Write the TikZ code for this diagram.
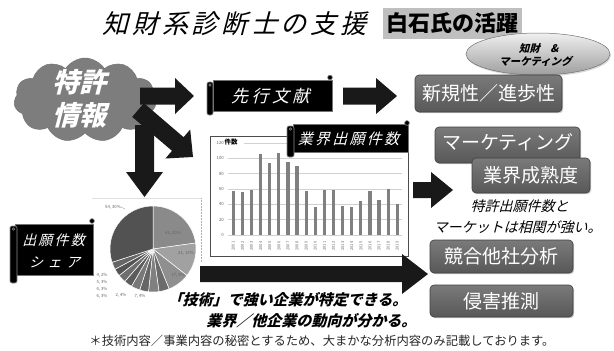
\documentclass[tikz,border=0pt]{standalone}
\usepackage{fontspec}
\setmainfont{Noto Sans CJK JP}
\newfontfamily\jp{Noto Sans CJK JP}
\usetikzlibrary{shapes.symbols,shapes.geometric,shadows}
\newcommand\myfs[1]{\fontsize{#1}{#1}\selectfont}
\newcommand\slnode[3][]{\begin{scope}[shift={#2}]\node[xslant=0.26, transform shape, inner sep=0pt, #1] at (0,0) {#3};\end{scope}}
\definecolor{boxtop}{RGB}{122,122,122}
\definecolor{boxbot}{RGB}{88,88,88}
\definecolor{cloudgray}{RGB}{125,125,125}
\definecolor{bargray}{RGB}{128,128,128}
\tikzset{
  gbox/.style={rounded corners=4pt, draw=black!75, line width=0.6pt,
    top color=boxtop, bottom color=boxbot, text=white, inner sep=0pt,
    drop shadow={shadow xshift=1.2pt, shadow yshift=-1.2pt, fill=black!40, opacity=0.5},
    font=\jp\myfs{19}},
  scrollbody/.style={fill=black, draw=black!55, line width=0.4pt, inner sep=0pt},
  roll/.style={fill=black, draw=black!45, line width=0.6pt, rounded corners=2pt},
  curl/.style={fill=black, draw=black!45, line width=0.6pt},
  blockarrow/.style={fill=black!90},
  tiny/.style={font=\jp\myfs{4.3}, text=black!60, inner sep=0pt},
}
\begin{document}
\begin{tikzpicture}[x=1pt,y=-1pt]
\useasboundingbox (0,0) rectangle (614,351);
\fill[white] (0,0) rectangle (614,351);

% title
\slnode[name=title, font=\jp\myfs{26}]{(237,24)}{\addfontfeatures{LetterSpace=14}知財系診断士の支援}
\node[fill=black!25, minimum width=139pt, minimum height=31pt, inner sep=0pt, font=\jp\bfseries\myfs{22}] (hl) at (452.5,23.5) {白石氏の活躍};

% ellipse
\node[ellipse, minimum width=144pt, minimum height=42pt, draw=black!55, line width=0.5pt,
  top color=black!6, bottom color=black!38, inner sep=0pt,
  drop shadow={shadow xshift=1pt, shadow yshift=-1.5pt, fill=black!30, opacity=0.5}] (ell) at (538,54) {};
\slnode[name=ellt, align=center, font=\jp\bfseries\myfs{10.5}]{(538,55)}{知財\quad\&\\[2pt]マーケティング}

% cloud
\node[cloud, cloud puffs=11, cloud puff arc=115, aspect=1.8, minimum width=142pt, minimum height=84pt,
  fill=cloudgray, draw=black!55, line width=0.5pt] (cloud) at (85,100) {};
\slnode[name=t1, font=\jp\bfseries\myfs{27}, text=white]{(82,82)}{特許}
\slnode[name=t2, font=\jp\bfseries\myfs{27}, text=white]{(82,115)}{情報}

% arrows from the cloud
\fill[blockarrow] (140,87.5) -- (175,87.5) -- (175,78) -- (194,96) -- (175,114) -- (175,104.5) -- (140,104.5) -- cycle;
\fill[blockarrow] (135,125) -- (154,125) -- (154,172) -- (163,172) -- (144.5,197) -- (126,172) -- (135,172) -- cycle;
\fill[blockarrow] (143.9,103.2) -- (183.6,137.2) -- (190.2,129.5) -- (193,157) -- (165.4,158.5) -- (172.0,150.8) -- (132.2,116.9) -- cycle;

% scroll 1
\node[scrollbody, minimum width=119pt, minimum height=31pt] (s1) at (272.5,95.5) {};
\slnode[name=s1t, font=\jp\myfs{17}, text=white]{(272,96)}{\addfontfeatures{LetterSpace=20}先行文献}
\fill[roll] (207,82) rectangle (213,115);
\filldraw[curl] (330,77.5) circle (2.4pt);
\draw[black!45, line width=0.5pt] (210,85) circle (1.3pt);

% arrow 2
\fill[blockarrow] (343,87.5) -- (376,87.5) -- (376,78) -- (397,96) -- (376,114) -- (376,104.5) -- (343,104.5) -- cycle;

% right boxes
\node[gbox, minimum width=147pt, minimum height=37pt] (nov) at (488.5,93.5) {新規性／進歩性};
\node[gbox, minimum width=145pt, minimum height=36pt] (mk) at (507.5,145) {};
\node[font=\jp\myfs{19}, text=white, inner sep=0pt] (mkt) at (508,142) {マーケティング};
\node[gbox, minimum width=118pt, minimum height=35pt] (mat) at (531,175.5) {業界成熟度};
\slnode[name=c1, font=\jp\myfs{14}]{(521,206)}{特許出願件数と}
\slnode[name=c2, font=\jp\myfs{14}]{(519,227)}{マーケットは相関が強い。}
\node[gbox, minimum width=143pt, minimum height=33pt] (comp) at (501.5,256.5) {競合他社分析};
\node[gbox, minimum width=143pt, minimum height=32pt] (inf) at (501.5,301) {侵害推測};

% arrow 3
\fill[blockarrow] (413,182) -- (431,182) -- (431,172) -- (453,190) -- (431,208) -- (431,198) -- (413,198) -- cycle;

% chart
\node[draw=black!70, fill=white, line width=0.7pt, minimum width=198pt, minimum height=120pt, inner sep=0pt] (chart) at (309,196) {};
\foreach \v in {0,20,40,60,80,100} {
  \draw[black!18, line width=0.4pt] (228,{235-\v*0.7667}) -- (402,{235-\v*0.7667});
  \node[tiny, anchor=east] at (224,{235-\v*0.7667}) {\v};
}
\draw[black!18, line width=0.4pt] (244,143) -- (402,143);
\node[tiny, anchor=east] at (224,143) {120};
\node[font=\jp\bfseries\myfs{6.5}, inner sep=0pt, anchor=west] at (224.5,142.5) {件数};
\foreach \v [count=\i from 0] in {57,56,59,105,94,107,95,90,58,37,59,59,38,37,44,58,46,60,41} {
  \fill[bargray] ({233.3+9.11*\i-1.6},235) rectangle ++(3.2,{-\v*0.7667});
  \pgfmathtruncatemacro\yr{2001+\i}
  \node[tiny, rotate=90, font=\jp\myfs{4}] at ({233.3+9.11*\i},246) {\yr};
}

% scroll 2
\node[scrollbody, minimum width=115pt, minimum height=28pt] (s2) at (350.5,138) {};
\slnode[name=s2t, font=\jp\myfs{15}, text=white]{(350,139)}{\addfontfeatures{LetterSpace=15}業界出願件数}
\fill[roll] (287,126) rectangle (294,157);
\filldraw[curl] (407,123) circle (2.4pt);
\draw[black!45, line width=0.5pt] (290.5,129) circle (1.3pt);

% pie
\draw[black!12, line width=0.4pt] (92,198) -- (201,198);
\draw[black!30, densely dotted, line width=0.5pt] (201,198) -- (201,262);
\coordinate (pc) at (153,249);
\foreach \a/\b/\p in {90/8/46, 8/-38/37, -38/-68/44, -68/-82/58, -82/-96/50, -96/-108/60, -108/-120/53,
  -120/-131/64, -131/-142/57, -142/-152/67, -152/-162/60, -162/-270/68} {
  \filldraw[fill=black!\p, draw=white, line width=0.5pt] (pc) -- plot[domain=\a:\b, samples=25] ({153+43*cos(\x)},{249-43*sin(\x)}) -- cycle;
}
\node[tiny, anchor=east] (l1) at (121,207) {54, 30\%};
\draw[black!40, line width=0.3pt] (l1.east) -- (125,209);
\node[tiny] (l2) at (173,233) {42, 20\%};
\node[tiny] (l3) at (186,253) {21, 13\%};
\node[tiny] (l4) at (178,275) {17, 9\%};
\node[tiny] (l5) at (102,275) {4, 2\%};
\node[tiny] (l6) at (102,282) {5, 3\%};
\node[tiny] (l7) at (102,289) {6, 3\%};
\node[tiny] (l8) at (102,296) {6, 3\%};
\node[tiny] (l9) at (121,295) {2, 4\%};
\node[tiny] (l10) at (140,296) {7, 4\%};

% scroll 3
\node[scrollbody, minimum width=78pt, minimum height=51pt] (s3) at (54,249.5) {};
\slnode[name=s3a, font=\jp\myfs{14}, text=white]{(55,240)}{\addfontfeatures{LetterSpace=16}出願件数}
\slnode[name=s3b, font=\jp\myfs{14}, text=white]{(56,262)}{\addfontfeatures{LetterSpace=32}シェア}
\fill[roll] (10,226) rectangle (17,283);
\filldraw[curl] (92,221) circle (2.4pt);
\draw[black!45, line width=0.5pt] (13.5,229) circle (1.3pt);

% bottom arrow
\fill[blockarrow] (200,266) -- (402,266) -- (402,254) -- (428,274) -- (402,294) -- (402,282) -- (200,282) -- cycle;

% bottom texts
\slnode[name=b1, font=\jp\bfseries\myfs{15}]{(289,300)}{「技術」で強い企業が特定できる。}
\slnode[name=b2, font=\jp\bfseries\myfs{15}]{(313,321)}{業界／他企業の動向が分かる。}
\node[font=\jp\myfs{12.3}, inner sep=0pt, text=black!85] (fn) at (322,341) {＊技術内容／事業内容の秘密とするため、大まかな分析内容のみ記載しております。};
\end{tikzpicture}
\end{document}
